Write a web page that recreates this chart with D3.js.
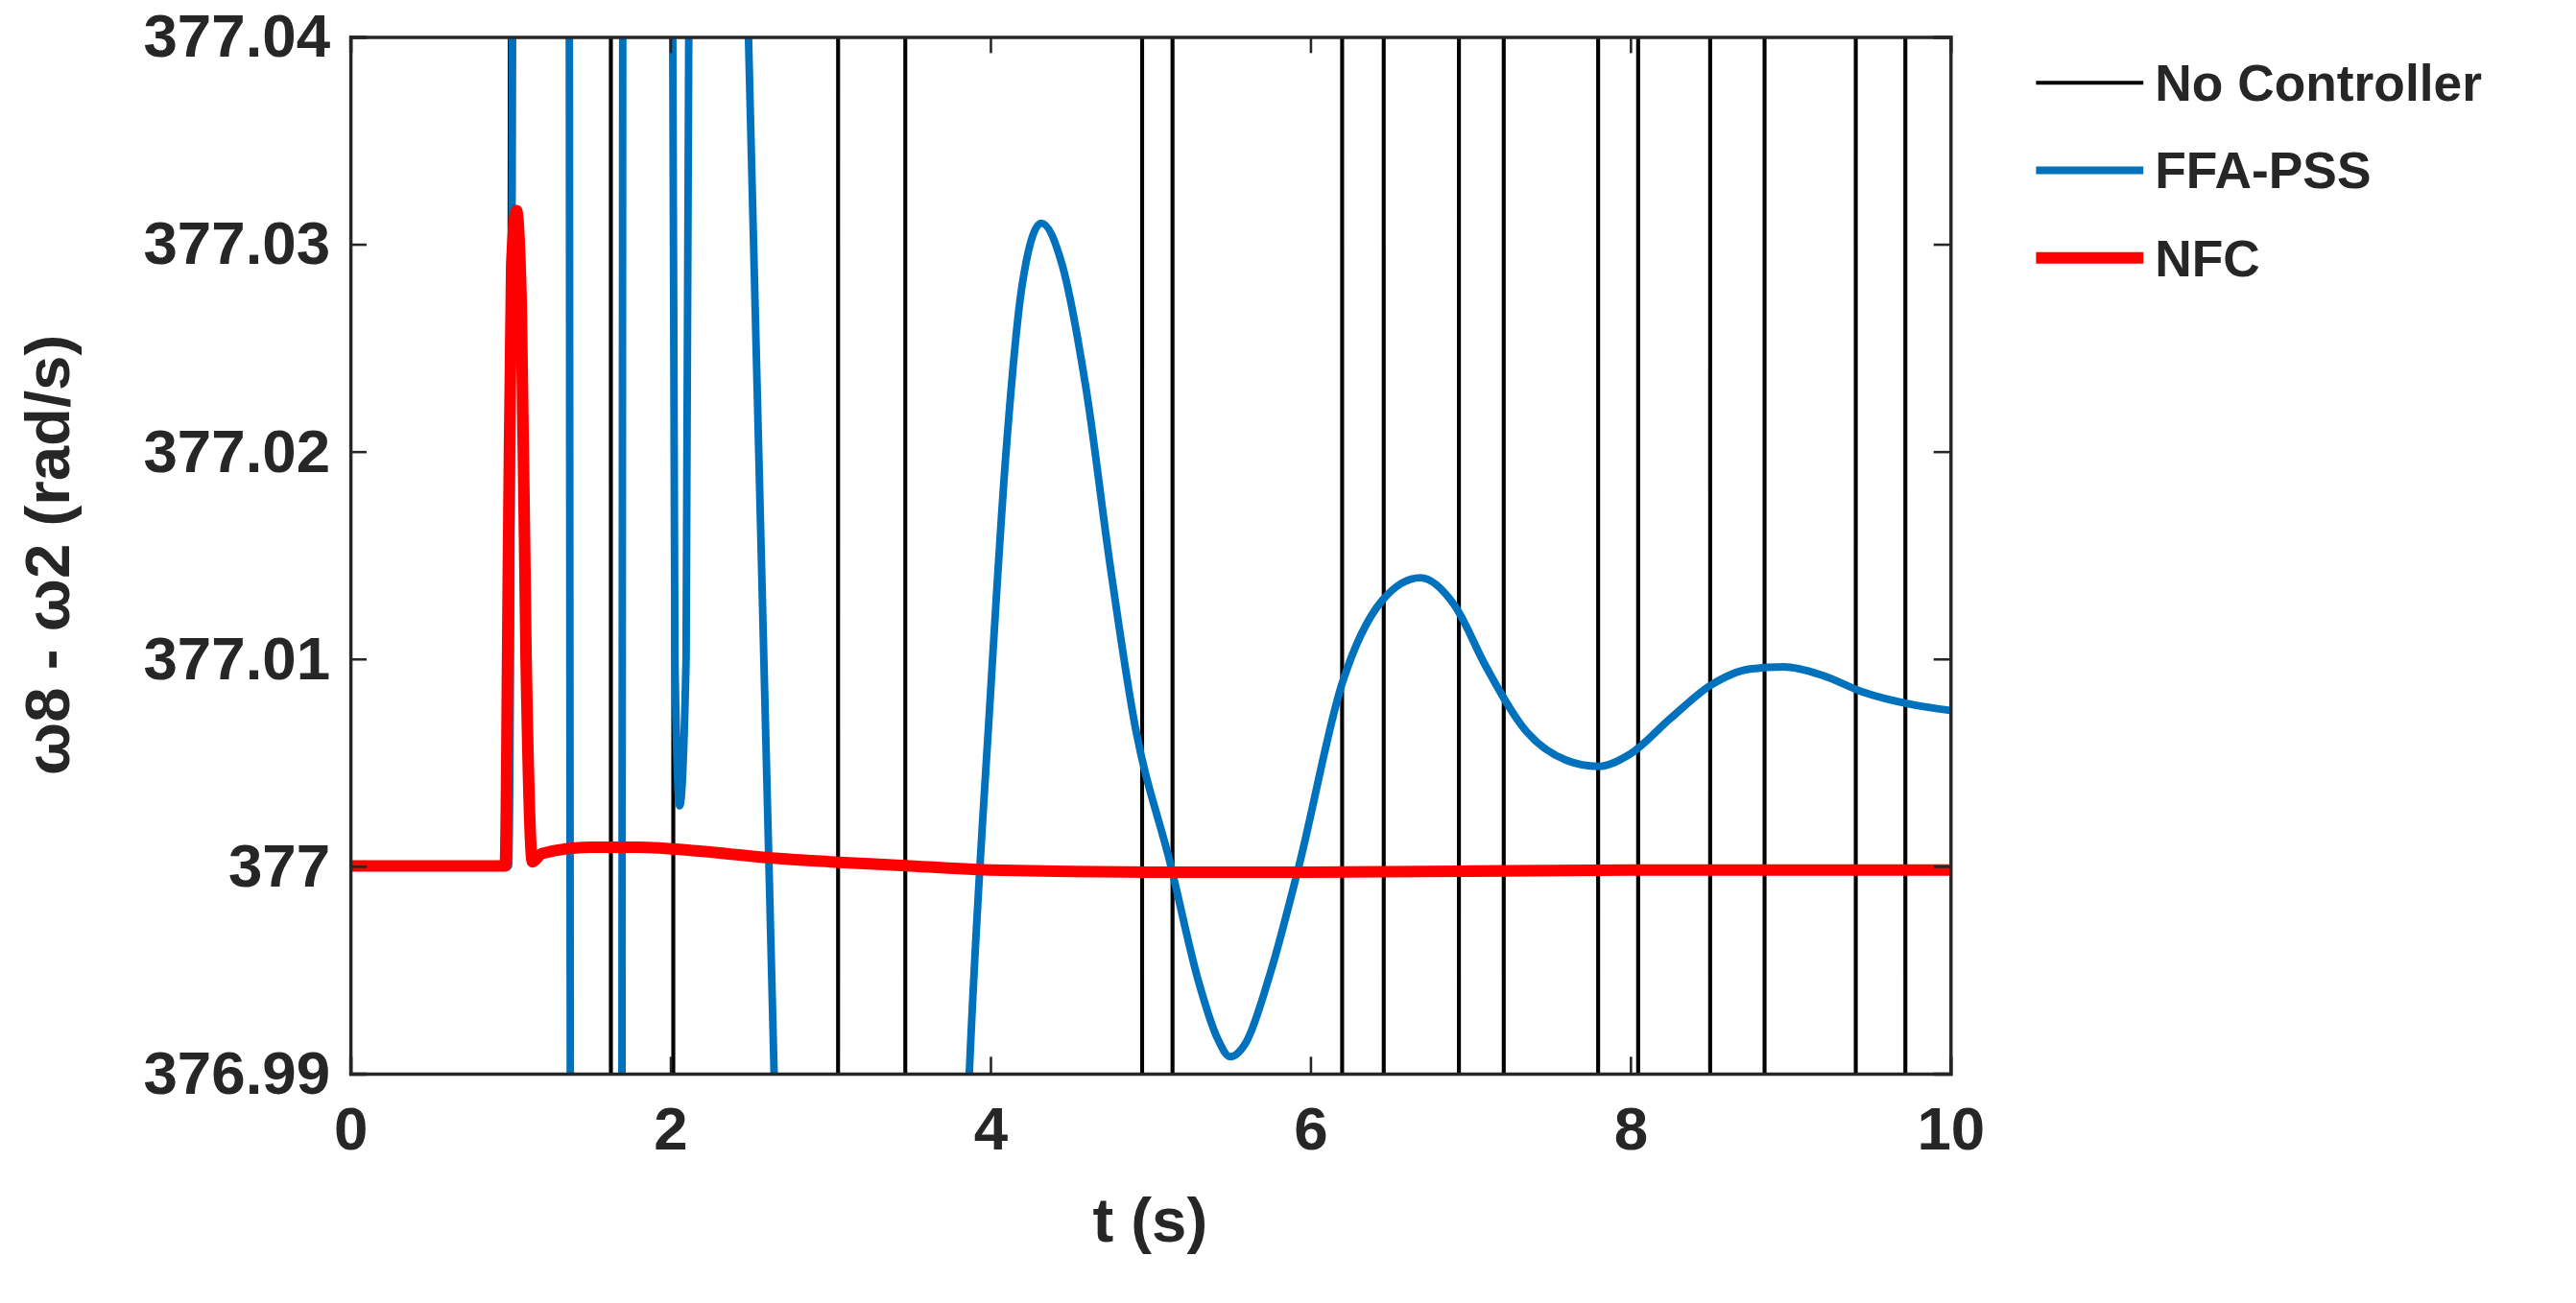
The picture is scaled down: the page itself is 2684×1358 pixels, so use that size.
<!DOCTYPE html>
<html>
<head>
<meta charset="utf-8">
<script src="https://cdn.jsdelivr.net/npm/d3@7"></script>
<style>
	html, body { margin:0; padding:0; background:#fff; }
	text { font-family:"Liberation Sans", Arial, sans-serif; font-weight:bold; fill:#262626; }
</style>
</head>
<body>
<div id="chart"></div>
<script>
'use strict';

// No Controller: leaves the axis range, only its crossings show (time of each vertical sweep)
var noCtrlT = [1.63, 1.71, 2.02, 3.05, 3.47, 4.95, 5.14, 6.20, 6.46, 6.93, 7.21, 7.80, 8.05, 8.50, 8.84, 9.41, 9.72];

// FFA-PSS
var ffaT = [0, 0.99, 1.2, 1.55, 1.85, 1.99, 2.03, 2.06, 2.10, 2.15, 2.3, 2.40, 2.49, 2.65, 2.9, 3.30, 3.70, 3.87, 4.0, 4.10, 4.20, 4.32, 4.45, 4.60, 4.75, 4.90, 5.13, 5.30, 5.42, 5.50, 5.60, 5.75, 5.93, 6.20, 6.45, 6.69, 6.90, 7.10, 7.35, 7.60, 7.80, 8.00, 8.25, 8.50, 8.75, 8.96, 9.20, 9.45, 9.75, 10];
var ffaV = [377, 377, 378, 376, 378, 377.1, 377.01, 377.0029, 377.01, 377.1, 378, 377.07, 377.04, 376.99, 376.93, 376.90, 376.95, 376.99, 377.008, 377.020, 377.028, 377.031, 377.029, 377.023, 377.0145, 377.007, 377.0, 376.9945, 376.9917, 376.9908, 376.9915, 376.9948, 377.0, 377.0088, 377.0128, 377.0139, 377.0126, 377.0096, 377.0065, 377.0051, 377.0048, 377.0054, 377.0071, 377.0087, 377.0095, 377.0096, 377.0092, 377.0084, 377.0078, 377.0075];

// NFC
var nfcT = [0, 0.97, 0.99, 1.01, 1.04, 1.07, 1.10, 1.14, 1.2, 1.5, 1.8, 2.2, 2.6, 3.0, 3.5, 4.0, 5.0, 6.0, 8.0, 10];
var nfcV = [377, 377, 377.015, 377.029, 377.0316, 377.027, 377.010, 377.0002, 377.0006, 377.0009, 377.0009, 377.0007, 377.0004, 377.0002, 377.0, 376.9998, 376.9997, 376.9997, 376.9998, 376.9998];

var xTicks = [0, 2, 4, 6, 8, 10];
var yTicks = [376.99, 377, 377.01, 377.02, 377.03, 377.04];
var legendNames = ["No Controller", "FFA-PSS", "NFC"];
var colors = ["#000000", "#0072BD", "#FF0000"];
var widths = [2.4, 4.6, 7];

// build No Controller path points: vertical sweeps alternating direction
var noCtrl = [{t:0, v:377}, {t:0.99, v:377}, {t:1.2, v:378}];
noCtrlT.forEach(function(t, i) {
	var from = i % 2 == 0 ? 378 : 376, to = i % 2 == 0 ? 376 : 378;
	noCtrl.push({t:t - 0.001, v:from}, {t:t + 0.001, v:to});
});

var W = 1560, H = 789;
var m = { l:212, r:1181, t:22, b:650 };

var svg = d3.select("#chart").append("svg")
	.attr("width", 2684).attr("height", 1358)
	.attr("viewBox", `0 0 ${W} ${H}`);

var x = d3.scaleLinear().domain([0, 10]).range([m.l, m.r]);
var y = d3.scaleLinear().domain([376.99, 377.04]).range([m.b, m.t]);

svg.append("clipPath").attr("id", "clip")
	.append("rect").attr("x", m.l).attr("y", m.t).attr("width", m.r - m.l).attr("height", m.b - m.t);

var plot = svg.append("g").attr("clip-path", "url(#clip)");

var lineLin = d3.line().x(d => x(d.t)).y(d => y(d.v));
var lineSmooth = d3.line().x(d => x(d.t)).y(d => y(d.v)).curve(d3.curveMonotoneX);

var series = [
	{ pts:noCtrl, line:lineLin },
	{ pts:ffaT.map((t, i) => ({t:t, v:ffaV[i]})), line:lineSmooth },
	{ pts:nfcT.map((t, i) => ({t:t, v:nfcV[i]})), line:lineSmooth }
];

series.forEach(function(s, i) {
	plot.append("path")
		.attr("d", s.line(s.pts))
		.attr("fill", "none")
		.attr("stroke", colors[i])
		.attr("stroke-width", widths[i])
		.attr("stroke-linejoin", "round");
});

// box and inward ticks
var axisCol = "#262626";
svg.append("g").attr("transform", `translate(0,${m.b})`)
	.call(d3.axisBottom(x).tickValues(xTicks).tickSize(-10).tickPadding(20).tickFormat(d3.format("d")));
svg.append("g").attr("transform", `translate(${m.l},0)`)
	.call(d3.axisLeft(y).tickValues(yTicks).tickSize(-10).tickPadding(12).tickFormat(d => +d.toFixed(2)));
svg.append("g").attr("transform", `translate(0,${m.t})`)
	.call(d3.axisTop(x).tickValues(xTicks).tickSize(-10).tickFormat(""));
svg.append("g").attr("transform", `translate(${m.r},0)`)
	.call(d3.axisRight(y).tickValues(yTicks).tickSize(-10).tickFormat(""));

svg.selectAll(".domain").attr("stroke", axisCol).attr("stroke-width", 2);
svg.selectAll(".tick line").attr("stroke", axisCol).attr("stroke-width", 1.5);
svg.selectAll(".tick text").style("font-size", "37px").style("font-family", "'Liberation Sans', Arial, sans-serif").attr("fill", "#262626");

svg.append("text").attr("x", (m.l + m.r) / 2).attr("y", 752)
	.attr("text-anchor", "middle").style("font-size", "38px").text("t (s)");
svg.append("text").attr("transform", `translate(42,${(m.t + m.b) / 2}) rotate(-90)`)
	.attr("text-anchor", "middle").style("font-size", "38px").text("ω8 - ω2 (rad/s)");

// legend
var lg = svg.append("g");
legendNames.forEach(function(n, i) {
	var yy = 50 + i * 53;
	lg.append("line").attr("x1", 1233).attr("x2", 1298).attr("y1", yy).attr("y2", yy)
		.attr("stroke", colors[i]).attr("stroke-width", widths[i]);
	lg.append("text").attr("x", 1305).attr("y", yy + 11).style("font-size", "31px").text(n);
});
</script>
</body>
</html>
